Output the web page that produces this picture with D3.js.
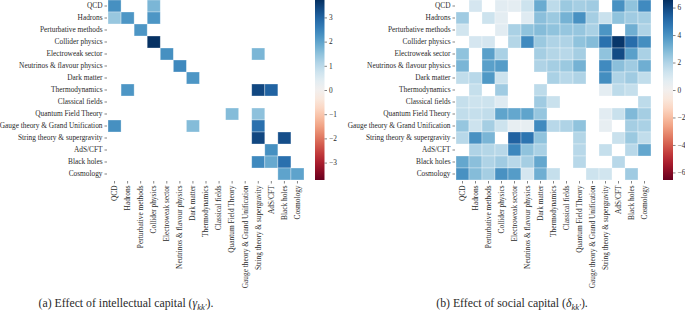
<!doctype html>
<html lang="en">
<head>
<meta charset="utf-8">
<title>Intellectual and social capital heatmaps</title>
<script src="https://cdn.jsdelivr.net/npm/d3@7"></script>
<style>
    body { margin: 0; background: #fff; }
    svg { display: block; }
    svg text { font-family: "Liberation Serif", serif; fill: #2a2a2a; }
    .axis path.domain { display: none; }
    .axis line { stroke: #333; stroke-width: 0.6; }
</style>
</head>
<body>
<svg></svg>
<script>
    var fields = ["QCD", "Hadrons", "Perturbative methods", "Collider physics", "Electroweak sector",
        "Neutrinos & flavour physics", "Dark matter", "Thermodynamics", "Classical fields",
        "Quantum Field Theory", "Gauge theory & Grand Unification", "String theory & supergravity",
        "AdS/CFT", "Black holes", "Cosmology"];

    var _ = null;
    // (a) effect of intellectual capital, gamma_kk'  (blank = not shown)
    var gamma = [
        [2.3, _, _, 1.7, _, _, _, _, _, _, _, _, _, _, _],
        [1.4, 2.2, _, 2.2, _, _, _, _, _, _, _, _, _, _, _],
        [_, _, 2.2, _, _, _, _, _, _, _, _, _, _, _, _],
        [_, _, _, 3.7, _, _, _, _, _, _, _, _, _, _, _],
        [_, _, _, _, 2.3, _, _, _, _, _, _, 1.7, _, _, _],
        [_, _, _, _, _, 2.4, _, _, _, _, _, _, _, _, _],
        [_, _, _, _, _, _, 2.2, _, _, _, _, _, _, _, _],
        [_, 2.2, _, _, _, _, _, _, _, _, _, 3.4, 3.0, _, _],
        [_, _, _, _, _, _, _, _, _, _, _, _, _, _, _],
        [_, _, _, _, _, _, _, _, _, 1.6, _, 1.5, _, _, _],
        [2.3, _, _, _, _, _, 1.6, _, _, _, _, 2.8, _, _, _],
        [_, _, _, _, _, _, _, _, _, _, _, 3.4, _, 3.3, _],
        [_, _, _, _, _, _, _, _, _, _, _, _, 2.3, _, _],
        [_, _, _, _, _, _, _, _, _, _, _, 2.4, 1.9, 2.8, _],
        [_, _, _, _, _, _, _, _, _, _, _, _, _, 2.0, 2.0]
    ];

    // (b) effect of social capital, delta_kk'
    var delta = [
        [_, 1.1, _, 0.7, 0.6, 1.3, 3.3, 1.7, 2.4, 2.2, 2.3, _, 4.0, 2.6, 4.2],
        [2.3, _, 1.3, 0.6, _, 0.8, 2.7, 2.4, 3.1, 4.0, 2.2, 1.4, 2.6, 2.3, 2.2],
        [1.2, _, _, 0.7, 2.1, 2.6, 2.8, 2.6, 2.5, 2.5, 2.1, 3.9, _, 3.2, 2.0],
        [_, 1.1, 1.1, _, 1.9, 4.2, 2.4, 2.0, 2.0, 2.6, 2.8, 4.9, 6.4, 5.0, 4.1],
        [2.6, _, 3.6, 2.1, _, _, 2.2, 1.9, 1.8, 2.2, _, 2.6, 5.9, 3.6, 2.1],
        [3.0, _, 3.6, 3.7, _, _, 2.0, 2.2, 2.4, 3.1, _, 4.2, 2.7, 2.3, 3.2],
        [1.6, 1.8, 3.8, 1.3, _, _, _, 2.1, 1.8, 2.0, _, 4.1, 2.0, 2.3, 1.6],
        [_, 1.5, _, 2.3, _, _, 1.7, _, _, _, _, 0.6, 1.7, 1.5, _],
        [1.5, 1.3, 1.3, 0.8, _, _, 2.3, 1.4, _, _, _, _, _, _, 1.7],
        [1.6, 1.5, 1.6, 3.5, 3.4, 3.5, 2.5, _, _, _, _, 0.7, 1.4, 2.9, 2.2],
        [2.5, 1.3, 2.2, 1.3, 0.5, 0.5, 4.2, 1.8, 2.0, 2.6, _, 0.5, _, 2.2, 2.1],
        [1.8, 4.0, 3.0, _, 5.3, 4.8, 2.6, _, _, 1.9, _, _, 1.4, 2.4, 1.6],
        [_, 2.0, 1.9, 1.8, 4.3, 2.6, 2.1, _, _, 1.8, _, 1.5, _, 1.8, 3.4],
        [3.4, 2.7, 2.0, 2.3, 1.8, 2.2, 3.4, _, _, 1.8, _, _, 1.8, _, _],
        [4.0, 2.8, 2.2, 4.0, 3.7, 1.1, 3.2, 1.5, _, _, 1.3, 1.2, _, 2.3, _]
    ];

    var gammaTicks = [3, 2, 1, 0, -1, -2, -3];
    var deltaTicks = [6, 4, 2, 0, -2, -4, -6];

    var width = 685;
    var height = 317;
    var serif = "'Liberation Serif', serif";
    var svg = d3.select("svg").attr("width", width).attr("height", height);
    var defs = svg.append("defs");

    // pick label size so the longest field name is ~103px wide, as in the original
    var probe = svg.append("text").attr("font-family", serif).attr("font-size", 10)
        .text("Gauge theory & Grand Unification");
    var labelSize = 10 * 103 / probe.node().getComputedTextLength();
    probe.remove();

    function fmt(v) { return v < 0 ? "\u2212" + Math.abs(v) : String(v); }

    function heatmap(matrix, left, gridW, vmax, cbX, cbW, ticks, id) {
        var x = d3.scaleBand().domain(d3.range(fields.length)).range([left, left + gridW]);
        var y = d3.scaleBand().domain(d3.range(fields.length)).range([0, 180]);
        var color = d3.scaleSequential(d3.interpolateRdBu).domain([-vmax, vmax]);

        var cells = [];
        matrix.forEach(function (row, i) {
            row.forEach(function (v, j) {
                if (v !== null) cells.push({ i: i, j: j, v: v });
            });
        });

        svg.append("g").selectAll("rect")
            .data(cells)
            .enter()
            .append("rect")
            .attr("x", function (d) { return x(d.j); })
            .attr("y", function (d) { return y(d.i); })
            .attr("width", x.bandwidth())
            .attr("height", y.bandwidth())
            .attr("fill", function (d) { return color(d.v); })
            .attr("stroke", "rgba(255,255,255,0.45)")
            .attr("stroke-width", 0.7);

        // row labels
        svg.append("g")
            .attr("class", "axis")
            .attr("transform", "translate(" + (left - 1) + ",0)")
            .call(d3.axisLeft(y).tickSize(2.5).tickPadding(2).tickFormat(function (i) { return fields[i]; }))
            .attr("font-family", serif)
            .attr("font-size", labelSize);

        // column labels
        var xg = svg.append("g")
            .attr("class", "axis")
            .attr("transform", "translate(0,181)")
            .call(d3.axisBottom(x).tickSize(2.5).tickPadding(2).tickFormat(function (i) { return fields[i]; }))
            .attr("font-family", serif)
            .attr("font-size", labelSize);
        xg.selectAll("text")
            .attr("text-anchor", "end")
            .attr("transform", "rotate(-90)")
            .attr("x", -4.5)
            .attr("y", 0)
            .attr("dy", "0.32em");

        // colorbar
        var cb = d3.scaleLinear().domain([-vmax, vmax]).range([180, 0]);
        var grad = defs.append("linearGradient")
            .attr("id", id)
            .attr("x1", 0).attr("y1", 1).attr("x2", 0).attr("y2", 0);
        d3.range(0, 1.0001, 0.05).forEach(function (t) {
            grad.append("stop")
                .attr("offset", t)
                .attr("stop-color", color(-vmax + 2 * vmax * t));
        });
        svg.append("rect")
            .attr("x", cbX).attr("y", 0)
            .attr("width", cbW).attr("height", 180)
            .attr("fill", "url(#" + id + ")");
        svg.append("g")
            .attr("class", "axis")
            .attr("transform", "translate(" + (cbX + cbW) + ",0)")
            .call(d3.axisRight(cb).tickValues(ticks).tickSize(2.5).tickPadding(2).tickFormat(fmt))
            .attr("font-family", serif)
            .attr("font-size", labelSize);
    }

    heatmap(gamma, 108, 196, 3.72, 315, 9.5, gammaTicks, "gradA");
    heatmap(delta, 456, 195, 6.55, 663, 10, deltaTicks, "gradB");

    // captions
    function caption(cx, label, sym) {
        var t = svg.append("text")
            .attr("x", cx).attr("y", 307)
            .attr("text-anchor", "middle")
            .attr("font-family", serif)
            .attr("font-size", 11.8);
        t.append("tspan").text(label + " (");
        t.append("tspan").attr("font-style", "italic").text(sym);
        t.append("tspan").attr("dy", 2.5).attr("font-size", 8.5).attr("font-style", "italic").text("kk\u2032");
        t.append("tspan").attr("dy", -2.5).text(").");
    }
    caption(126, "(a) Effect of intellectual capital", "\u03b3");
    caption(512, "(b) Effect of social capital", "\u03b4");
</script>
</body>
</html>
